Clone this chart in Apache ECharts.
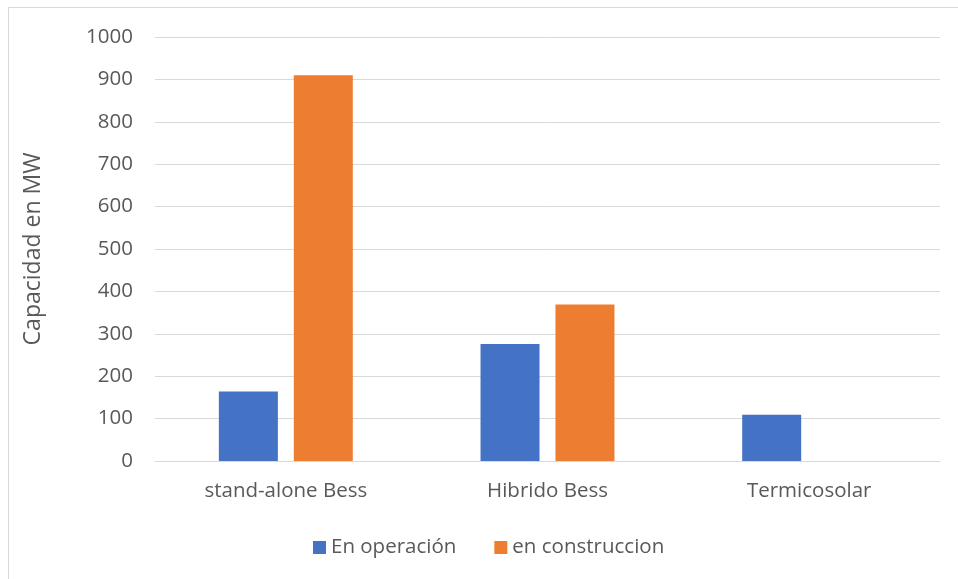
<!DOCTYPE html>
<html>
<head>
<meta charset="utf-8">
<style>
  html, body { margin: 0; padding: 0; background: #fff; }
  #chart { width: 958px; height: 579px; }
</style>
<script src="https://cdn.jsdelivr.net/npm/echarts@6/dist/echarts.min.js"></script>
</head>
<body>
<div id="chart"></div>
<script>
// Capacity by technology (MW)
const categories = ['stand-alone Bess', 'Hibrido Bess', 'Termicosolar'];
const enOperacion = [164, 276, 109];
const enConstruccion = [910, 369, 0];
const yTicks = [0, 1000, 100];

const FONT = '"Open Sans", "Noto Sans", sans-serif';
const TXT = '#595959';

const chart = echarts.init(document.getElementById('chart'), null, { renderer: 'canvas' });
chart.setOption({
  animation: false,
  backgroundColor: '#fff',
  textStyle: { fontFamily: FONT },
  grid: { left: 155, right: 18, top: 37, bottom: 118, containLabel: false },
  graphic: [
    { type: 'line', shape: { x1: 8.5, y1: 7.5, x2: 958, y2: 7.5 }, style: { stroke: '#d9d9d9', lineWidth: 1 } },
    { type: 'line', shape: { x1: 8.5, y1: 7.5, x2: 8.5, y2: 579 }, style: { stroke: '#d9d9d9', lineWidth: 1 } }
  ],
  legend: {
    top: 532,
    left: 308,
    itemWidth: 13,
    itemHeight: 13,
    itemGap: 38,
    icon: 'rect',
    textStyle: { fontSize: 20.5, color: TXT, fontFamily: FONT },
    data: ['En operación', 'en construccion']
  },
  xAxis: {
    type: 'category',
    data: categories,
    axisLine: { lineStyle: { color: '#d9d9d9' } },
    axisTick: { show: false },
    axisLabel: { fontSize: 20.5, color: TXT, margin: 20, fontFamily: FONT }
  },
  yAxis: {
    type: 'value',
    min: yTicks[0],
    max: yTicks[1],
    interval: yTicks[2],
    name: 'Capacidad en MW',
    nameLocation: 'middle',
    nameGap: 110,
    nameTextStyle: { fontSize: 23, color: TXT, fontFamily: FONT },
    axisLine: { show: false },
    axisTick: { show: false },
    axisLabel: { fontSize: 20.5, color: TXT, margin: 22, fontFamily: FONT, formatter: v => String(v) },
    splitLine: { lineStyle: { color: '#d9d9d9', width: 1 } }
  },
  series: [
    {
      name: 'En operación',
      type: 'bar',
      data: enOperacion,
      barWidth: 59,
      barGap: '27%',
      itemStyle: { color: '#4472c4' }
    },
    {
      name: 'en construccion',
      type: 'bar',
      data: enConstruccion,
      barWidth: 59,
      itemStyle: { color: '#ed7d31' }
    }
  ]
});
</script>
</body>
</html>
